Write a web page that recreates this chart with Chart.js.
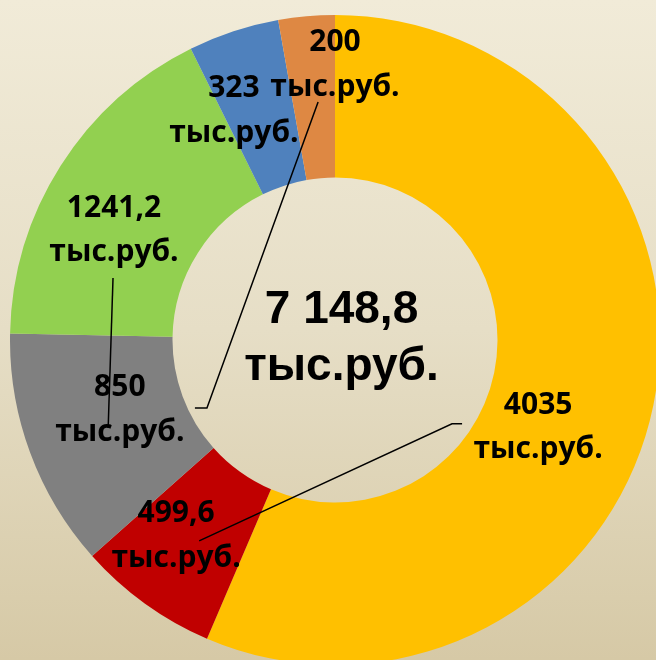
<!DOCTYPE html>
<html>
<head>
<meta charset="utf-8">
<script src="https://cdn.jsdelivr.net/npm/chart.js@4"></script>
<style>
  html, body { margin: 0; padding: 0; }
  body {
    width: 656px; height: 660px; overflow: hidden; position: relative;
    background: linear-gradient(to bottom, #F1EBD8 0%, #E6DEC6 50%, #D6C9A6 100%);
  }
  #wrap { position: absolute; left: 10px; top: 15px; width: 650px; height: 650px; }
</style>
</head>
<body>
<div id="wrap"><canvas id="chart"></canvas></div>
<script>
// Data
var categories = ['4035', '499,6', '850', '1241,2', '323', '200'];
var values = [4035, 499.6, 850, 1241.2, 323, 200];
var unitLabel = 'тыс.руб.';
var totalLabel = '7 148,8';
var sliceColors = ['#FFC000', '#C00000', '#808080', '#92D050', '#4F81BD', '#DE8843'];

// Label placement, as fractions of outer radius from the chart centre
var labelSpots = [[0.625, 0.269], [-0.489, 0.603], [-0.662, 0.215], [-0.68, -0.337], [-0.311, -0.706], [0.0, -0.845]];
// Leader lines (same units)
var leaderLines = [
    [[-0.052, -0.732], [-0.394, 0.209], [-0.431, 0.209]],
    [[0.391, 0.258], [0.360, 0.258], [-0.418, 0.618]],
    [[-0.683, -0.191], [-0.698, 0.271]]
];

// Plugin to draw data labels, leader lines and the total in the middle
var labelsPlugin = {
    id: 'labelsPlugin',
    afterDatasetsDraw: function(chart) {
        var arc = chart.getDatasetMeta(0).data[0];
        var cx = arc.x, cy = arc.y, R = arc.outerRadius;
        var ctx = chart.ctx;
        ctx.save();
        ctx.fillStyle = '#000';
        ctx.textAlign = 'center';
        ctx.textBaseline = 'middle';
        var fs = Math.round(R * 0.092);
        var gap = R * 0.069;
        ctx.font = 'bold ' + fs + 'px "Open Sans", Lato, sans-serif';
        for (var i = 0; i < categories.length; i++) {
            var x = cx + labelSpots[i][0] * R;
            var y = cy + labelSpots[i][1] * R;
            ctx.fillText(categories[i], x, y - gap);
            ctx.fillText(unitLabel, x, y + gap);
        }
        // leader lines
        ctx.strokeStyle = '#000';
        ctx.lineWidth = 1.5;
        leaderLines.forEach(function(pts) {
            ctx.beginPath();
            pts.forEach(function(p, k) {
                var px = cx + p[0] * R, py = cy + p[1] * R;
                if (k === 0) ctx.moveTo(px, py); else ctx.lineTo(px, py);
            });
            ctx.stroke();
        });
        // total in the centre
        var big = Math.round(R * 0.142);
        ctx.font = 'bold ' + big + 'px "Liberation Sans", Arial, sans-serif';
        ctx.fillText(totalLabel, cx + R * 0.02, cy - R * 0.09);
        ctx.fillText(unitLabel, cx + R * 0.02, cy + R * 0.085);
        ctx.restore();
    }
};

var ctx = document.getElementById('chart').getContext('2d');
var myChart = new Chart(ctx, {
    type: 'doughnut',
    data: {
        labels: categories,
        datasets: [{
            data: values,
            backgroundColor: sliceColors,
            borderWidth: 0
        }]
    },
    options: {
        responsive: true,
        maintainAspectRatio: false,
        animation: false,
        cutout: '50%',
        plugins: {
            legend: { display: false },
            tooltip: { enabled: false }
        }
    },
    plugins: [labelsPlugin]
});
</script>
</body>
</html>
